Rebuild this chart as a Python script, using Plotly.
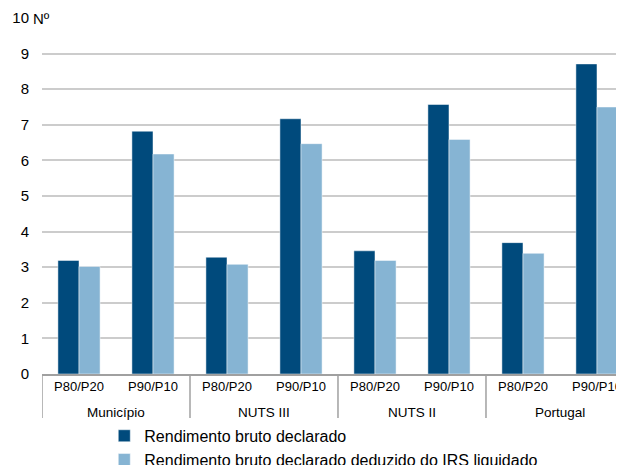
import plotly.graph_objects as go

groups = ["Município", "Município", "NUTS III", "NUTS III", "NUTS II", "NUTS II", "Portugal", "Portugal"]
ratios = ["P80/P20", "P90/P10"] * 4
bruto = [3.19, 6.82, 3.28, 7.17, 3.46, 7.57, 3.69, 8.71]
liquido = [3.02, 6.18, 3.08, 6.47, 3.19, 6.59, 3.39, 7.50]
series_names = ["Rendimento bruto declarado", "Rendimento bruto declarado deduzido do IRS liquidado"]
colors = ["#004a7c", "#86b4d3"]
y_ticks = [0, 1, 2, 3, 4, 5, 6, 7, 8, 9, 10]

xpos = list(range(len(ratios)))

fig = go.Figure()
for name, vals, col in zip(series_names, [bruto, liquido], colors):
    fig.add_trace(go.Bar(
        x=xpos, y=vals, name=name,
        marker=dict(color=col, line=dict(color="rgba(255,255,255,0.6)", width=0.8)),
    ))

# group labels and dividers derived from the category lists
unique_groups = []
for g in groups:
    if g not in unique_groups:
        unique_groups.append(g)
plot_h = 356.0
for g in unique_groups:
    idx = [i for i, gg in enumerate(groups) if gg == g]
    fig.add_annotation(text=g, xref="x", yref="paper", x=sum(idx) / len(idx), y=0,
                       yanchor="middle", yshift=-38, showarrow=False,
                       font=dict(size=13.5, color="#000000"))
    fig.add_shape(type="line", xref="x", yref="paper", x0=idx[0] - 0.5, x1=idx[0] - 0.5,
                  y0=0, y1=-44 / plot_h, line=dict(color="#a0a0a0", width=1.5))

fig.update_layout(
    width=616, height=457,
    margin=dict(l=34, r=0, t=10, b=91, autoexpand=False),
    paper_bgcolor="white", plot_bgcolor="white",
    barmode="group", bargap=0.43, bargroupgap=0,
    font=dict(family="Liberation Sans, Arial, sans-serif", size=14, color="#000000"),
    showlegend=True,
    legend=dict(orientation="v", x=0.107, xanchor="left", y=-0.126, yanchor="top",
                font=dict(size=16, color="#000000"), tracegroupgap=0,
                itemwidth=30, bgcolor="rgba(0,0,0,0)"),
    xaxis=dict(
        range=[-0.5, 7.365], automargin=False,
        tickvals=xpos, ticktext=ratios, ticklabeloverflow="allow",
        showline=True, linecolor="#a0a0a0", linewidth=1.5,
        ticks="", tickfont=dict(size=13), zeroline=False,
        showgrid=False,
    ),
    yaxis=dict(
        range=[0, 10], tickvals=y_ticks, automargin=False,
        ticktext=[str(v) for v in y_ticks],
        showgrid=True, gridcolor="#cccccc", gridwidth=1.5,
        zeroline=False, showline=False, ticks="", ticklabelstandoff=12,
        tickfont=dict(size=15),
    ),
)
fig.add_annotation(text="Nº", xref="paper", yref="y", x=0, y=10, xanchor="left",
                   yanchor="middle", xshift=-11, showarrow=False,
                   font=dict(size=15, color="#000000"))

fig.write_html("out.html")
